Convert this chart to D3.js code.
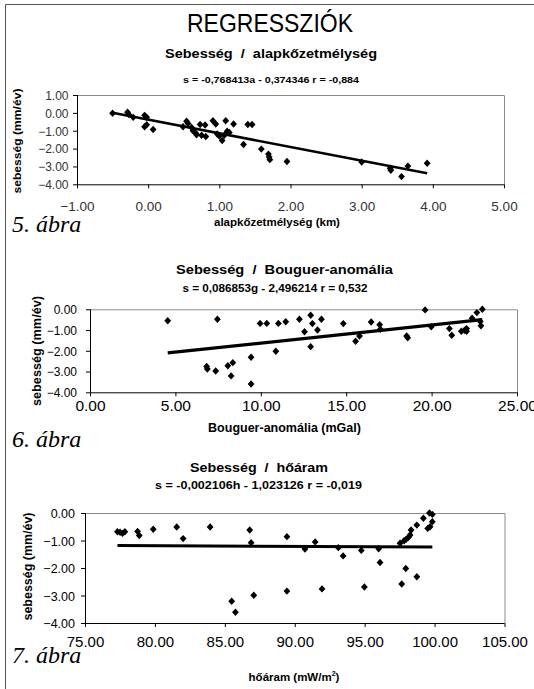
<!DOCTYPE html>
<html><head><meta charset="utf-8">
<script src="https://cdn.jsdelivr.net/npm/d3@7"></script>
<style>html,body{margin:0;padding:0;background:#fff}svg{display:block}text{white-space:pre}</style>
</head><body>
<svg id="c" width="534" height="689"></svg>
<script>
// ---------- DATA ----------
// 5. ábra : sebesség vs alapkőzetmélység
const depthA = [-0.50,-0.29,-0.27,-0.21,-0.05,-0.02,-0.05,-0.02,0.07,0.49,0.54,0.56,0.61,0.63,0.67,0.68,0.73,0.75,0.80,0.81,0.91,0.95,0.97,1.00,1.04,1.07,1.09,1.11,1.14,1.20,1.34,1.40,1.46,1.59,1.69,1.70,1.71,1.95,3.00,3.40,3.41,3.56,3.65,3.92];
const depthS = [-0.02,0.03,-0.10,-0.25,-0.14,-0.25,-0.78,-0.66,-0.93,-0.78,-0.47,-0.60,-0.82,-1.00,-1.14,-1.23,-0.65,-1.25,-0.68,-1.32,-0.44,-0.62,-1.18,-1.30,-1.55,-1.25,-0.44,-1.03,-1.10,-0.62,-1.77,-0.65,-0.65,-2.03,-2.31,-2.47,-2.62,-2.72,-2.75,-3.10,-3.22,-3.57,-2.98,-2.82];
const depthFit = [-0.768413, -0.374346];
const depthXTicks = [-1,0,1,2,3,4,5];
const depthYTicks = [1,0,-1,-2,-3,-4];

// 6. ábra : sebesség vs Bouguer-anomália
const bougG = [4.55,7.46,6.83,6.87,7.36,8.07,8.36,8.26,9.43,9.43,9.96,10.35,10.88,11.03,11.46,12.26,12.56,12.92,12.92,13.02,13.32,13.55,14.83,15.55,15.78,16.46,16.96,17.00,18.54,18.60,19.62,19.98,21.04,21.18,21.74,21.93,22.05,22.05,22.37,22.65,22.85,22.89,22.97];
const bougS = [-0.55,-0.48,-2.76,-2.88,-2.97,-2.72,-2.57,-3.21,-2.31,-3.60,-0.68,-0.68,-2.02,-0.68,-0.60,-0.48,-1.08,-0.29,-1.80,-0.69,-1.00,-0.48,-0.69,-1.54,-1.29,-0.61,-0.74,-0.96,-1.29,-1.37,-0.03,-0.84,-0.93,-1.25,-1.06,-1.01,-0.93,-1.06,-0.43,-0.16,-0.59,-0.79,0.00];
const bougFit = [0.086853, -2.496214];
const bougXTicks = [0,5,10,15,20,25];
const bougYTicks = [0,-1,-2,-3,-4];

// 7. ábra : sebesség vs hőáram
const heatH = [77.32,77.51,77.68,77.85,78.76,78.88,79.88,81.56,82.02,83.95,85.49,85.76,86.78,86.88,87.07,89.44,89.44,90.73,91.46,91.95,93.12,93.46,94.76,94.98,96.00,96.10,97.53,97.65,97.94,97.82,97.96,98.13,98.25,98.32,98.73,98.73,99.20,99.51,99.63,99.68,99.84,99.84];
const heatS = [-0.68,-0.70,-0.74,-0.68,-0.67,-0.82,-0.59,-0.51,-0.93,-0.51,-3.21,-3.61,-0.62,-1.08,-2.99,-0.86,-2.84,-1.31,-1.05,-2.76,-1.26,-1.56,-1.36,-2.69,-1.30,-1.80,-1.10,-2.58,-2.02,-1.01,-0.96,-0.88,-0.80,-0.62,-0.44,-2.32,-0.19,-0.56,0.00,-0.50,-0.05,-0.32];
const heatFit = [-0.002106, -1.023126];
const heatXTicks = [75,80,85,90,95,100,105];
const heatYTicks = [0,-1,-2,-3,-4];

const mainTitle = "REGRESSZIÓK";
const titles = ["Sebesség  /  alapkőzetmélység","Sebesség  /  Bouguer-anomália","Sebesség  /  hőáram"];
const equations = ["s = -0,768413a - 0,374346 r = -0,884","s = 0,086853g - 2,496214 r = 0,532","s = -0,002106h - 1,023126 r = -0,019"];
const xTitles = ["alapkőzetmélység (km)","Bouguer-anomália (mGal)","hőáram (mW/m"];
const yTitle = "sebesség (mm/év)";
const figLabels = ["5. ábra","6. ábra","7. ábra"];

// ---------- LAYOUT ----------
const layouts = [
  {x0:77, x1:504, y0:95, y1:184.3, xd:[-1,5], yd:[-4,1], ytFs:12, xtFs:13.5, xtBase:211.5, ylabR:68.5, lw:2.6, tickFill:"#333",
   tX:271, tY:57.5, tW:212, tFs:12, eX:271, eY:83, eW:176, eFs:9.5,
   xtX:277, xtY:225.5, xtW:133, xtTFs:11.5, ytX:21, ytY:141, ytW:105, ytTFs:11,
   fY:232},
  {x0:90, x1:517, y0:309.3, y1:392.3, xd:[0,25], yd:[-4,0], ytFs:12, xtFs:15.5, xtBase:411, ylabR:77, lw:3.3, tickFill:"#000",
   tX:284.5, tY:274.3, tW:217, tFs:13, eX:275, eY:291.7, eW:185, eFs:10.5,
   xtX:284.5, xtY:432.3, xtW:164, xtTFs:12.5, ytX:40.5, ytY:351, ytW:110, ytTFs:12,
   fY:446.7},
  {x0:85, x1:504.5, y0:513, y1:623, xd:[75,105], yd:[-4,0], ytFs:12.5, xtFs:15, xtBase:646.7, ylabR:75, lw:3, tickFill:"#000",
   tX:259, tY:471.7, tW:138, tFs:13, eX:258.5, eY:489.3, eW:207, eFs:10.5,
   xtX:294, xtY:681, xtW:109, xtTFs:11.5, ytX:31.5, ytY:566.5, ytW:108, ytTFs:12,
   fY:663.3}
];
const datasets = [
  {xs:depthA, ys:depthS, fit:depthFit, xt:depthXTicks, yt:depthYTicks},
  {xs:bougG, ys:bougS, fit:bougFit, xt:bougXTicks, yt:bougYTicks},
  {xs:heatH, ys:heatS, fit:heatFit, xt:heatXTicks, yt:heatYTicks}
];

const SANS = "'Liberation Sans', Arial, sans-serif";
const svg = d3.select("#c");

// outer frame
svg.append("line").attr("x1",5.5).attr("x2",5.5).attr("y1",4.5).attr("y2",689).attr("stroke","#555");
svg.append("line").attr("x1",5.5).attr("x2",534).attr("y1",4.5).attr("y2",4.5).attr("stroke","#555");

svg.append("text").text(mainTitle).attr("x",270).attr("y",32).attr("text-anchor","middle")
  .attr("font-family","'Liberation Sans Narrow', 'Liberation Sans', sans-serif").attr("font-size",25)
  .attr("textLength",166).attr("lengthAdjust","spacingAndGlyphs").attr("fill","#000");

const diamond = {draw(ctx, size){ const w=3.4, h=3.7; ctx.moveTo(0,-h); ctx.lineTo(w,0); ctx.lineTo(0,h); ctx.lineTo(-w,0); ctx.closePath(); }};
const fmt = d3.format(".2f");

datasets.forEach((ds, i) => {
  const L = layouts[i];
  const x = d3.scaleLinear().domain(L.xd).range([L.x0, L.x1]);
  const y = d3.scaleLinear().domain(L.yd).range([L.y1, L.y0]);
  const g = svg.append("g");

  // plot frame top/right (gray)
  g.append("path").attr("d",`M${L.x0},${L.y0+0.5}H${L.x1+0.5}V${L.y1}`).attr("fill","none").attr("stroke","#8a8a8a").attr("stroke-width",1);

  // axes
  const xAxis = d3.axisBottom(x).tickValues(ds.xt).tickSize(4).tickFormat(fmt);
  const yAxis = d3.axisLeft(y).tickValues(ds.yt).tickSize(4).tickFormat(fmt);
  const gx = g.append("g").attr("transform",`translate(0,${L.y1})`).call(xAxis);
  const gy = g.append("g").attr("transform",`translate(${L.x0},0)`).call(yAxis);
  [gx,gy].forEach(a=>{ a.select(".domain").attr("stroke","#000"); a.selectAll(".tick line").attr("stroke","#000"); });
  gx.select(".domain").attr("d",`M${L.x0},0.5H${L.x1}`);
  gy.select(".domain").attr("d",`M0.5,${L.y1}V${L.y0}`);
  gx.selectAll(".tick text").attr("dy",null)
    .attr("y", L.xtBase - L.y1)
    .attr("font-family",SANS).attr("font-size",L.xtFs).attr("fill",L.tickFill);
  gy.selectAll(".tick text").attr("x", L.ylabR - L.x0).attr("dy","0.36em")
    .attr("font-family",SANS).attr("font-size",L.ytFs).attr("fill",L.tickFill);

  // trendline
  const xmin = d3.min(ds.xs), xmax = d3.max(ds.xs);
  g.append("line").attr("x1",x(xmin)).attr("y1",y(ds.fit[0]*xmin+ds.fit[1]))
    .attr("x2",x(xmax)).attr("y2",y(ds.fit[0]*xmax+ds.fit[1]))
    .attr("stroke","#000").attr("stroke-width",L.lw);

  // points
  g.selectAll("path.pt").data(ds.xs.map((v,k)=>[v, ds.ys[k]])).join("path").attr("class","pt")
    .attr("d", d3.symbol().type(diamond))
    .attr("transform", d=>`translate(${x(d[0])},${y(d[1])})`).attr("fill","#000");

  // titles
  g.append("text").text(titles[i]).attr("x",L.tX).attr("y",L.tY).attr("text-anchor","middle")
    .attr("font-family",SANS).attr("font-weight","bold").attr("font-size",L.tFs)
    .attr("textLength",L.tW).attr("lengthAdjust","spacingAndGlyphs");
  g.append("text").text(equations[i]).attr("x",L.eX).attr("y",L.eY).attr("text-anchor","middle")
    .attr("font-family",SANS).attr("font-weight","bold").attr("font-size",L.eFs)
    .attr("textLength",L.eW).attr("lengthAdjust","spacingAndGlyphs");
  const xt = g.append("text").attr("x",L.xtX).attr("y",L.xtY).attr("text-anchor","middle")
    .attr("font-family",SANS).attr("font-weight","bold").attr("font-size",L.xtTFs);
  xt.append("tspan").text(xTitles[i]);
  if (i===2){
    xt.append("tspan").text("2").attr("font-size",7).attr("dy",-5);
    xt.append("tspan").text(")").attr("dy",5);
  }
  g.append("text").text(yTitle).attr("transform",`translate(${L.ytX},${L.ytY}) rotate(-90)`).attr("text-anchor","middle")
    .attr("font-family",SANS).attr("font-weight","bold").attr("font-size",L.ytTFs)
    .attr("textLength",L.ytW).attr("lengthAdjust","spacingAndGlyphs");
  g.append("text").text(figLabels[i]).attr("x",12).attr("y",L.fY)
    .attr("font-family","'Liberation Serif', 'Times New Roman', serif").attr("font-style","italic").attr("font-size",24);
});
</script>
</body></html>
